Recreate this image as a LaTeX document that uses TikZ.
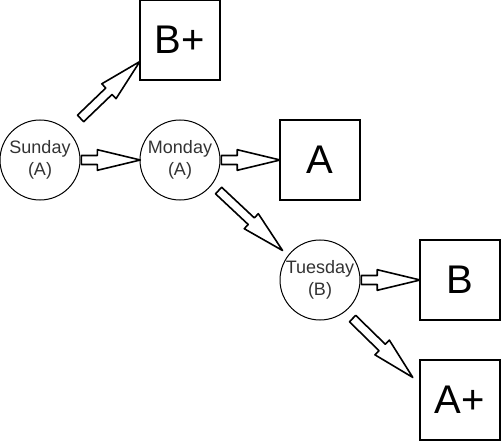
\documentclass[tikz,border=0pt]{standalone}
\usepackage{fontspec}
\setmainfont{Liberation Sans}
\usetikzlibrary{shapes.arrows,calc}
\definecolor{txtgray}{HTML}{333333}
\tikzset{
  daynode/.style={circle, draw=black, line width=1pt, minimum size=80pt, inner sep=0pt,
    align=center, text=txtgray, font=\fontsize{18}{22.5}\selectfont},
  gradebox/.style={rectangle, draw=black, line width=1.3pt, minimum size=80pt, inner sep=0pt,
    font=\fontsize{40}{44}\selectfont},
  barrow/.style={single arrow, draw=black, fill=white, line width=1.6pt, line join=round,
    inner xsep=0pt, inner ysep=3.7pt, minimum width=0pt,
    single arrow head extend=5.8pt, single arrow tip angle=27},
}
\newcommand\blockarrow[2]{%
  \path let \p1=(#1), \p2=(#2), \n1={atan2(\y2-\y1,\x2-\x1)}, \n2={veclen(\x2-\x1,\y2-\y1)} in
    node[barrow, anchor=tail, rotate=\n1, minimum height=\n2] at (\p1) {};}
\begin{document}
\begin{tikzpicture}[x=1pt, y=-1pt]
\useasboundingbox (0,0) rectangle (501,441);
\node[daynode] (sun) at (40,160) {Sunday\\(A)};
\node[daynode] (mon) at (180,160) {Monday\\(A)};
\node[daynode] (tue) at (320,280) {Tuesday\\(B)};
\node[gradebox] (bp) at (180,40) {B+};
\node[gradebox] (a) at (320,160) {A};
\node[gradebox] (b) at (460,280) {B};
\node[gradebox] (ap) at (460,400) {A+};
\coordinate (s1) at ($(sun)+(40,-41)$);
\coordinate (t1) at ($(bp.west)+(0,22)$);
\coordinate (s2) at ($(mon)+(38,30)$);
\coordinate (t2) at ($(tue)+(-38,-30)$);
\coordinate (s3) at ($(tue)+(32,38)$);
\coordinate (t3) at ($(ap.west)+(-7,-23)$);
\blockarrow{sun.east}{mon.west}
\blockarrow{mon.east}{a.west}
\blockarrow{s1}{t1}
\blockarrow{s2}{t2}
\blockarrow{tue.east}{b.west}
\blockarrow{s3}{t3}
\end{tikzpicture}
\end{document}
